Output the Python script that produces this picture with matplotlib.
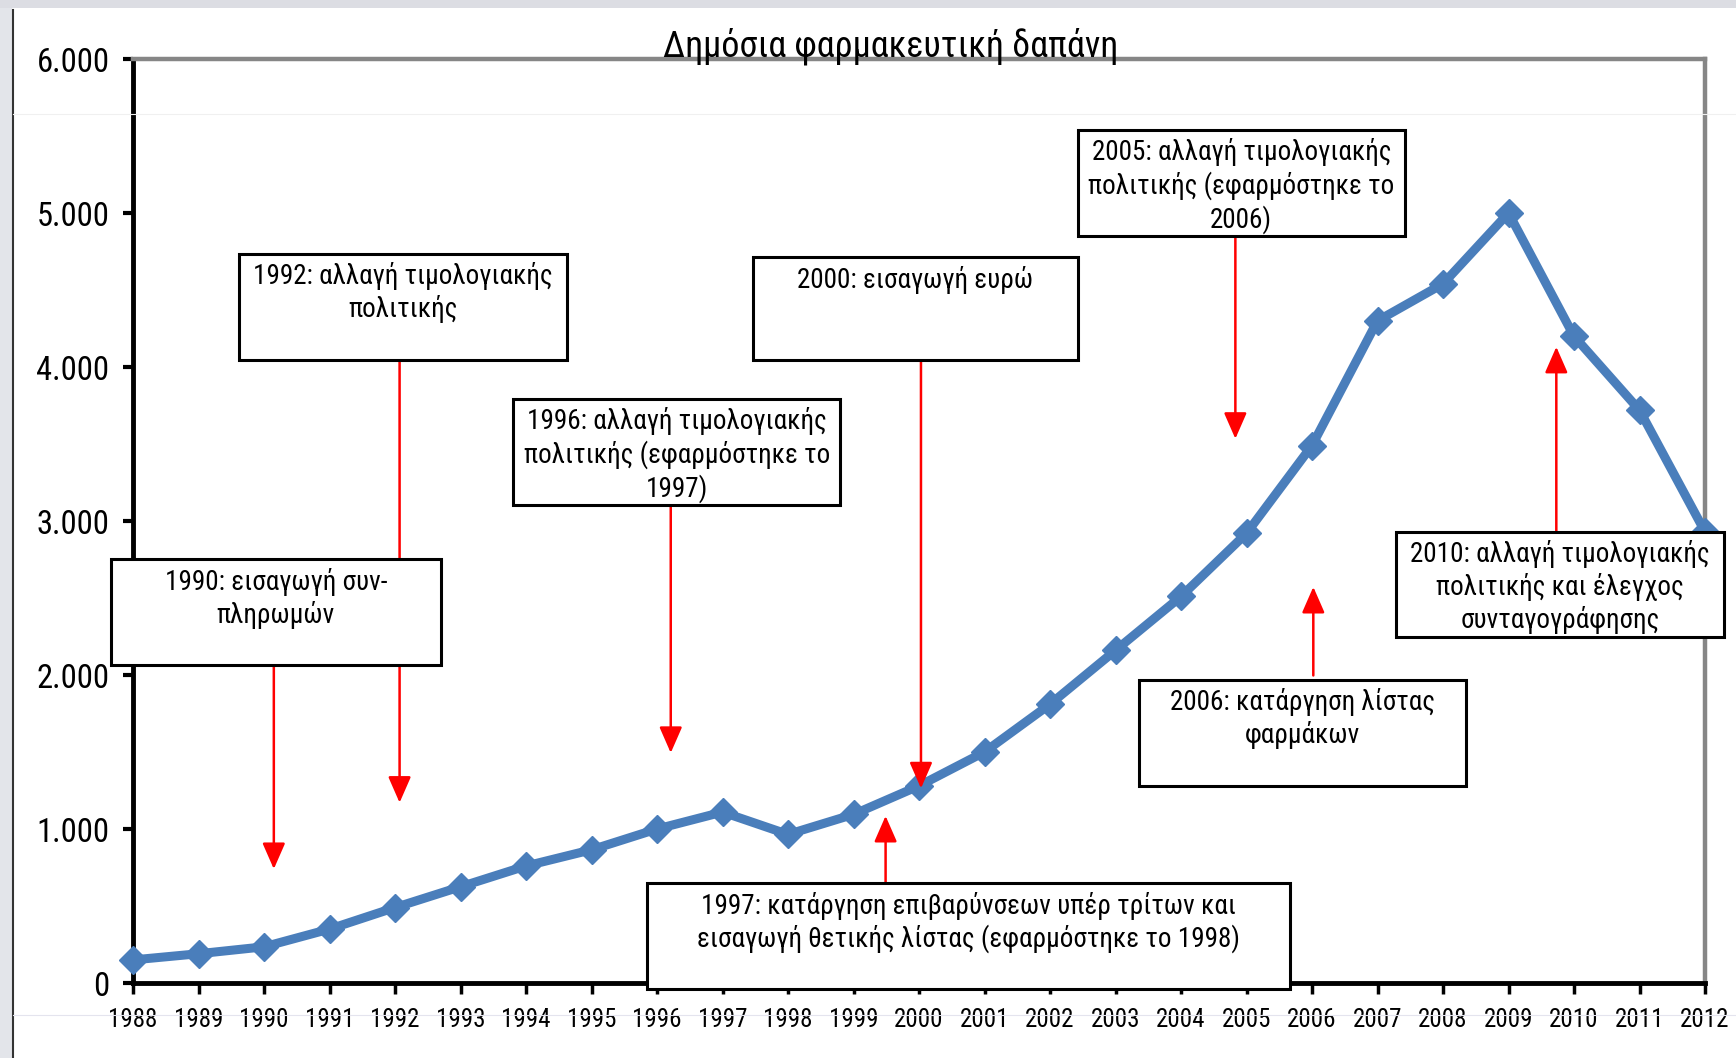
import matplotlib.pyplot as plt
from matplotlib.patches import Rectangle
from matplotlib.lines import Line2D
from matplotlib.ticker import FuncFormatter

# Δεδομένα (εκτίμηση από το γράφημα)
years = list(range(1988, 2013))
spending = [150, 190, 235, 350, 490, 625, 760, 865, 1000, 1110, 965, 1095, 1280,
            1500, 1810, 2160, 2510, 2920, 3490, 4300, 4540, 5000, 4200, 3720, 2930]
y_ticks = [0, 1000, 2000, 3000, 4000, 5000, 6000]
title = "Δημόσια φαρμακευτική δαπάνη"

# Σημειώσεις: κείμενο, πλαίσιο (x0, x1, y0, y1) και βέλος (x, από, προς)
notes = [
    ("1992: αλλαγή τιμολογιακής\nπολιτικής", (1989.62, 1994.62, 4045, 4734), (1992.07, 4045, 1171)),
    ("1990: εισαγωγή συν-\nπληρωμών", (1987.66, 1992.70, 2062, 2751), (1990.15, 2062, 740)),
    ("1996: αλλαγή τιμολογιακής\nπολιτικής (εφαρμόστηκε το\n1997)", (1993.80, 1998.80, 3103, 3793), (1996.21, 3103, 1494)),
    ("2000: εισαγωγή ευρώ", (1997.46, 2002.42, 4045, 4713), (2000.03, 4045, 1264)),
    ("2005: αλλαγή τιμολογιακής\nπολιτικής (εφαρμόστηκε το\n2006)", (2002.42, 2007.42, 4849, 5539), (2004.83, 4849, 3534)),
    ("1997: κατάργηση επιβαρύνσεων υπέρ τρίτων και\nεισαγωγή θετικής λίστας (εφαρμόστηκε το 1998)",
     (1995.84, 2005.66, -36, 647), (1999.49, 647, 1085)),
    ("2006: κατάργηση λίστας\nφαρμάκων", (2003.36, 2008.35, 1279, 1968), (2006.02, 1997, 2572)),
    ("2010: αλλαγή τιμολογιακής\nπολιτικής και έλεγχος\nσυνταγογράφησης", (2007.28, 2012.29, 2249, 2931), (2009.73, 2931, 4131)),
]

FONT = ['Roboto Condensed', 'Liberation Sans Narrow', 'DejaVu Sans']
plt.rcParams['font.family'] = FONT
plt.rcParams['font.stretch'] = 'condensed'

W, H = 1736, 1058
fig = plt.figure(figsize=(W / 100, H / 100), dpi=100)
fig.patch.set_facecolor('white')

# Πλαίσιο του στιγμιότυπου οθόνης
fig.add_artist(Rectangle((0, 1 - 8 / H), 1, 8 / H, transform=fig.transFigure,
                         facecolor='#dcdde3', edgecolor='none'))
fig.add_artist(Rectangle((0, 0), 12 / W, 1 - 8 / H, transform=fig.transFigure,
                         facecolor='#e3e5ea', edgecolor='none'))
fig.add_artist(Line2D([13 / W, 13 / W], [0, 1 - 10 / H], transform=fig.transFigure,
                      color='#333333', lw=1.5))
fig.add_artist(Line2D([13 / W, 1], [1 - 114 / H, 1 - 114 / H], transform=fig.transFigure,
                      color='#f0f0f0', lw=0.8))
fig.add_artist(Line2D([13 / W, 1], [1 - 1015 / H, 1 - 1015 / H], transform=fig.transFigure,
                      color='#e4e4ee', lw=0.8))

left, right, top, bottom = 133, 1705, 59, 983
ax = fig.add_axes([left / W, 1 - bottom / H, (right - left) / W, (bottom - top) / H])
ax.set_xlim(1988, 2012)
ax.set_ylim(0, 6000)

ax.plot(years, spending, color='#4a7ebb', lw=6.5, marker='D', markersize=14,
        clip_on=False, zorder=4)

for side in ['left', 'bottom']:
    ax.spines[side].set_color('black')
    ax.spines[side].set_linewidth(3.5)
for side in ['top', 'right']:
    ax.spines[side].set_color('#868686')
    ax.spines[side].set_linewidth(3.2)

ax.set_yticks(y_ticks)
ax.yaxis.set_major_formatter(FuncFormatter(lambda v, p: f"{int(v):,}".replace(",", ".")))
ax.set_xticks(years)
ax.tick_params(axis='y', length=7, width=3, pad=10, labelsize=23.5, direction='out')
ax.tick_params(axis='x', length=8, width=2.5, pad=10, labelsize=18, direction='out')

fig.text(891 / W, 1 - 46 / H, title, fontsize=26, ha='center', va='center', zorder=10)

for text, (x0, x1, y0, y1), (ax_x, a_from, a_to) in notes:
    ax.annotate('', xy=(ax_x, a_to), xytext=(ax_x, a_from),
                arrowprops=dict(arrowstyle='-|>,head_length=0.8,head_width=0.35',
                                color='red', lw=1.8, shrinkA=0, shrinkB=0,
                                mutation_scale=20),
                zorder=5, annotation_clip=False)
    ax.add_patch(Rectangle((x0, y0), x1 - x0, y1 - y0, facecolor='white',
                           edgecolor='black', lw=2.2, clip_on=False, zorder=6))
    ax.annotate(text, xy=((x0 + x1) / 2, y1), xytext=(0, -6), textcoords='offset points',
                ha='center', va='top', fontsize=19.5, linespacing=1.22, zorder=7,
                annotation_clip=False)

fig.savefig('out.png', dpi=100, facecolor='white')
